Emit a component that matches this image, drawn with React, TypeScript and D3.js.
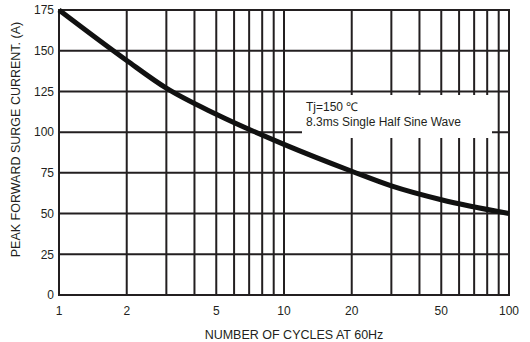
import React, { useEffect, useRef } from "react";
import * as d3 from "d3";

// values
const cycles = [1, 2, 3, 5, 10, 20, 30, 50, 100];
const current = [175, 144, 127, 111, 92.5, 76, 67, 58.5, 50];

const xLabels = [1, 2, 5, 10, 20, 50, 100];
const yTicks = [0, 25, 50, 75, 100, 125, 150, 175];
const noteLines = ["Tj=150 \u2103", "8.3ms Single Half Sine Wave"];

const FONT = "'Liberation Sans', Arial, sans-serif";

function App() {
  const svgRef = useRef<SVGSVGElement | null>(null);

  useEffect(() => {
    const width = 530;
    const height = 342;
    const margin = { top: 10, right: 21, bottom: 47, left: 59 };

    const svg = d3.select(svgRef.current);
    svg.selectAll("*").remove();

    const x = d3
      .scaleLog()
      .domain([1, 100])
      .range([margin.left, width - margin.right]);

    const y = d3
      .scaleLinear()
      .domain([0, 175])
      .range([height - margin.bottom, margin.top]);

    const gridColor = "#231f20";

    // vertical grid (log decades)
    svg
      .append("g")
      .selectAll("line")
      .data(x.ticks())
      .join("line")
      .attr("x1", (d) => x(d))
      .attr("x2", (d) => x(d))
      .attr("y1", y(0))
      .attr("y2", y(175))
      .attr("stroke", gridColor)
      .attr("stroke-width", 2);

    // horizontal grid
    svg
      .append("g")
      .selectAll("line")
      .data(yTicks)
      .join("line")
      .attr("x1", x(1) - 1)
      .attr("x2", x(100) + 1)
      .attr("y1", (d) => y(d))
      .attr("y2", (d) => y(d))
      .attr("stroke", gridColor)
      .attr("stroke-width", 2);

    // y tick labels
    svg
      .append("g")
      .selectAll("text")
      .data(yTicks)
      .join("text")
      .attr("x", margin.left - 5)
      .attr("y", (d) => y(d))
      .attr("dy", "0.36em")
      .attr("text-anchor", "end")
      .attr("font-family", FONT)
      .attr("font-size", 12)
      .attr("fill", "#231f20")
      .text((d) => d);

    // x tick labels
    svg
      .append("g")
      .selectAll("text")
      .data(xLabels)
      .join("text")
      .attr("x", (d) => x(d))
      .attr("y", y(0) + 20)
      .attr("text-anchor", "middle")
      .attr("font-family", FONT)
      .attr("font-size", 12)
      .attr("fill", "#231f20")
      .text((d) => d);

    // note box
    svg
      .append("rect")
      .attr("x", 302)
      .attr("y", 95)
      .attr("width", 190)
      .attr("height", 43)
      .attr("fill", "#fff");

    svg
      .append("g")
      .selectAll("text")
      .data(noteLines)
      .join("text")
      .attr("x", 306)
      .attr("y", (d, i) => 111 + i * 15)
      .attr("font-family", FONT)
      .attr("font-size", 12)
      .attr("fill", "#231f20")
      .text((d) => d);

    // surge curve
    const line = d3
      .line<number>()
      .x((d, i) => x(cycles[i]))
      .y((d) => y(d))
      .curve(d3.curveMonotoneX);

    svg
      .append("path")
      .datum(current)
      .attr("d", line)
      .attr("fill", "none")
      .attr("stroke", "#111")
      .attr("stroke-width", 5);

    // axis titles
    svg
      .append("text")
      .attr("x", 294)
      .attr("y", 339)
      .attr("text-anchor", "middle")
      .attr("font-family", FONT)
      .attr("font-size", 12.5)
      .attr("fill", "#231f20")
      .text("NUMBER OF CYCLES AT 60Hz");

    svg
      .append("text")
      .attr("transform", `translate(19.5,139.5) rotate(-90)`)
      .attr("text-anchor", "middle")
      .attr("font-family", FONT)
      .attr("font-size", 12.5)
      .attr("fill", "#231f20")
      .text("PEAK FORWARD SURGE CURRENT. (A)");
  }, []);

  return (
    <svg
      ref={svgRef}
      width={530}
      height={342}
      style={{ position: "absolute", left: 0, top: 0, background: "#fff" }}
    />
  );
}

export default App;
